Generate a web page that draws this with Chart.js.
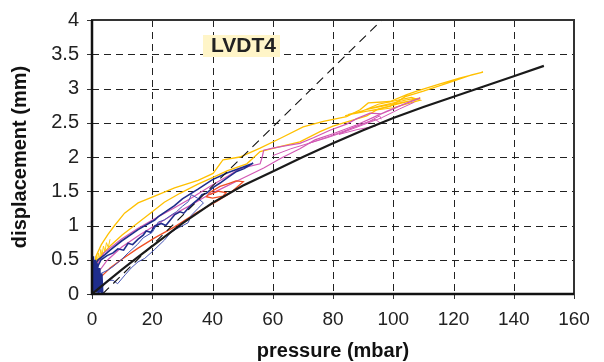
<!DOCTYPE html>
<html>
<head>
<meta charset="utf-8">
<script src="https://cdn.jsdelivr.net/npm/chart.js@4.4.1/dist/chart.umd.min.js"></script>
<style>
  html, body { margin: 0; padding: 0; background: #fff; }
  #wrap { width: 604px; height: 362px; }
</style>
</head>
<body>
<div id="wrap"><canvas id="c" width="604" height="362"></canvas></div>
<script>
// axis ticks
const xTicks = [0, 20, 40, 60, 80, 100, 120, 140, 160];
const yTicks = [0, 0.5, 1, 1.5, 2, 2.5, 3, 3.5, 4];

// fitted curve (black) and reference line (dashed)
const fitCurve = [[0,0],[5,0.18],[10,0.36],[15,0.53],[20,0.7],[30,1.03],[40,1.33],[50,1.58],[60,1.79],[70,2.0],[80,2.2],[90,2.39],[100,2.57],[110,2.73],[120,2.88],[130,3.03],[140,3.18],[150,3.33]];
const refLine = [[3.5,0],[96.2,4]];

// measured loops
const yellowMain = [[0.5,0.3],[0.9,0.42],[1.4,0.56],[3.1,0.72],[5.3,0.87],[7.5,1.0],[10.8,1.18],[15.3,1.33],[20.8,1.43],[27.4,1.55],[35.2,1.66],[40.2,1.76],[42.5,1.9],[43.5,1.96],[49.1,2.0],[55.8,2.13],[62.4,2.27],[70.1,2.44],[76.8,2.52],[84.5,2.59],[89,2.69],[91.7,2.79],[98.9,2.81],[104.5,2.91],[107.8,2.96],[115,3.06],[122,3.15],[129.8,3.24],
  [126,3.2],[118,3.08],[110,2.96],[104,2.88],[98.9,2.74],[95,2.7],[91.2,2.6],[86,2.53],[80,2.45],[75.7,2.37],[69,2.22],[62.4,2.15],[55.8,2.08],[51.4,1.9],[45,1.8],[40,1.7],[35,1.6],[29.2,1.47],[24,1.34],[20,1.2],[15.3,1.04],[10,0.86],[6,0.7],[3,0.56],[1.5,0.46],[0.8,0.4]];
const yellowLoops = [[84,2.6],[95,2.74],[105,2.84],[109,2.86],[104,2.8],[95,2.7],[88,2.64],[95,2.77],[106,2.87],[109,2.83],[100,2.72],[90,2.66],[85,2.62],[92,2.7],[103,2.8],[108,2.84]];
const yellowNoise = [[0.4,0.3],[0.6,0.45],[1,0.36],[1.3,0.55],[1.7,0.44],[2.1,0.6],[2.5,0.5],[2.9,0.65],[3.3,0.56],[3.8,0.7],[4.3,0.62],[4.8,0.75],[5.4,0.68],[6,0.8]];
const redLoop = [[0.3,0.02],[1.5,0.15],[3,0.25],[6,0.38],[9.7,0.5],[15.3,0.67],[20.8,0.82],[27.4,0.98],[35.2,1.2],[41.4,1.35],[45.8,1.47],[50.2,1.64],[47.8,1.65],[45.8,1.62],[42.5,1.57],[39,1.48],[38,1.42],[40,1.4],[43.5,1.43],[44.5,1.48],[42,1.5],[39,1.45]];
const pinkLoop = [[0.5,0.25],[1.5,0.42],[4,0.6],[9.7,0.8],[15.3,0.96],[20.8,1.1],[27.4,1.26],[33,1.4],[40.2,1.6],[45,1.72],[49.1,1.83],[55.8,1.9],[56.5,2.0],[57,2.1],[60,2.13],[65,2.17],[69,2.2],[73.5,2.28],[79,2.39],[84.5,2.48],[87.9,2.56],[92.3,2.64],[96,2.63],[100,2.7],[105,2.8],[108.9,2.86],
  [104,2.78],[98,2.67],[94.5,2.6],[88,2.47],[80,2.34],[74,2.25],[69,2.12],[63,1.99],[57,1.84],[50,1.69],[44,1.56],[38,1.43],[32.5,1.29],[27,1.16],[22,1.03],[16,0.87],[10,0.69],[5,0.49],[2,0.31],[0.5,0.15]];
const pinkInner = [[72,2.2],[80,2.32],[88,2.45],[94,2.55],[95.6,2.5],[94,2.45],[88,2.4],[82,2.33],[86,2.42],[92,2.52],[95.5,2.6],[96,2.55]];
const pinkLower = [[60,2.02],[66,2.12],[72,2.2],[78,2.28],[84,2.37],[90,2.47],[96,2.57],[102,2.7],[107,2.8]];
const navyLoop = [[0.3,0.0],[0.5,0.2],[1.3,0.35],[3,0.5],[5,0.56],[7,0.6],[8.6,0.66],[10.5,0.64],[12,0.74],[13.5,0.72],[15.3,0.8],[17,0.86],[18,0.92],[19.5,0.9],[20.8,0.99],[23,1.03],[24.5,1.0],[26.2,1.09],[27.5,1.16],[29.2,1.2],[30.5,1.18],[31.9,1.25],[33.5,1.32],[35.2,1.38],[36.5,1.45],[38,1.47],[40,1.55],[42.5,1.62],[45,1.7],[48,1.79],[50.5,1.83],[53.5,1.91],
  [50,1.85],[45,1.77],[40,1.67],[35.2,1.53],[30,1.39],[27.4,1.29],[22,1.13],[20.8,1.08],[15.3,0.94],[9.7,0.77],[6,0.64],[4.2,0.57],[2,0.5],[1,0.42],[0.5,0.3],[0.2,0.1]];
const blueLoop = [[0.5,0.05],[3,0.08],[5.3,0.2],[7,0.2],[8.5,0.15],[11,0.28],[13,0.38],[15.3,0.47],[17.5,0.52],[20.8,0.65],[24.1,0.79],[26.2,0.9],[28,0.95],[31.9,1.04],[33,1.15],[35.2,1.25],[37,1.33],[35,1.4],[33,1.45],[32,1.35],[30,1.28],[28,1.2],[26.2,1.15],[24,1.08],[22,1.05],[20,0.9],[17,0.82],[15,0.72],[12,0.6],[9.7,0.5],[7,0.4],[5.3,0.35],[3,0.3],[1.5,0.2]];
const navyBlob = [[0.2,0],[0.4,0.55],[0.8,0.03],[1.1,0.5],[1.5,0.02],[1.8,0.45],[2.2,0.0],[2.5,0.38],[2.9,0.03],[3.2,0.3],[3.5,0.02],[1,0.08],[0.3,0.1],[2.5,0.12],[0.5,0.02]];

function pts(arr) {
  return arr.map(p => ({ x: p[0], y: p[1] }));
}

function series(data, color, width, order, dash) {
  return {
    data: pts(data),
    borderColor: color,
    borderWidth: width,
    borderDash: dash || [],
    showLine: true,
    pointRadius: 0,
    tension: 0,
    fill: false,
    order: order
  };
}

// dashed grid + tick marks under the data
const gridPlugin = {
  id: "dashgrid",
  beforeDatasetsDraw(chart) {
    const ctx = chart.ctx;
    const a = chart.chartArea;
    const xs = chart.scales.x;
    const ys = chart.scales.y;
    ctx.save();
    ctx.strokeStyle = "#222";
    ctx.lineWidth = 1;
    ctx.setLineDash([7, 5]);
    xTicks.forEach(v => {
      const px = Math.round(xs.getPixelForValue(v)) + 0.5;
      ctx.beginPath();
      ctx.moveTo(px, a.top);
      ctx.lineTo(px, a.bottom);
      ctx.stroke();
    });
    yTicks.forEach(v => {
      const py = Math.round(ys.getPixelForValue(v)) + 0.5;
      ctx.beginPath();
      ctx.moveTo(a.left, py);
      ctx.lineTo(a.right, py);
      ctx.stroke();
    });
    // small tick marks outside the axes
    ctx.setLineDash([]);
    ctx.strokeStyle = "#333";
    xTicks.forEach(v => {
      const px = Math.round(xs.getPixelForValue(v)) + 0.5;
      ctx.beginPath();
      ctx.moveTo(px, a.bottom);
      ctx.lineTo(px, a.bottom + 5);
      ctx.stroke();
    });
    yTicks.forEach(v => {
      const py = Math.round(ys.getPixelForValue(v)) + 0.5;
      ctx.beginPath();
      ctx.moveTo(a.left - 5, py);
      ctx.lineTo(a.left, py);
      ctx.stroke();
    });
    ctx.restore();
  }
};

// frame + label box drawn over the plot
const framePlugin = {
  id: "frame",
  afterDraw(chart) {
    const ctx = chart.ctx;
    const a = chart.chartArea;
    ctx.save();
    ctx.strokeStyle = "#333";
    ctx.lineWidth = 2;
    ctx.strokeRect(a.left, a.top, a.right - a.left, a.bottom - a.top);
    ctx.strokeStyle = "#111";
    ctx.lineWidth = 2.5;
    ctx.beginPath();
    ctx.moveTo(a.left, a.top);
    ctx.lineTo(a.left, a.bottom);
    ctx.lineTo(a.right, a.bottom);
    ctx.stroke();

    ctx.fillStyle = "#FFF5C8";
    ctx.fillRect(203, 35, 77, 22);
    ctx.fillStyle = "#222";
    ctx.font = "bold 21px Arial, 'Liberation Sans', sans-serif";
    ctx.textAlign = "left";
    ctx.textBaseline = "middle";
    ctx.fillText("LVDT4", 211, 46.5);
    ctx.restore();
  }
};

const tickFont = { family: "Arial, 'Liberation Sans', sans-serif", size: 19 };
const yTickFont = { family: "Arial, 'Liberation Sans', sans-serif", size: 20 };
const titleFont = { family: "Arial, 'Liberation Sans', sans-serif", size: 20, weight: "bold", lineHeight: 1 };

new Chart(document.getElementById("c"), {
  type: "scatter",
  data: {
    datasets: [
      series(fitCurve, "#1a1a1a", 2.2, 0),
      series(refLine, "#111", 1.1, 1, [9, 6]),
      series(navyBlob, "#1f2d8c", 2, 2),
      series(navyLoop, "#1f2d8c", 1.6, 3),
      series(blueLoop, "#4453b4", 1, 4),
      series(redLoop, "#f04e23", 1.3, 5),
      series(pinkInner, "#d258b4", 1, 6),
      series(pinkLower, "#d258b4", 1, 7),
      series(pinkLoop, "#d258b4", 1.2, 8),
      series(yellowLoops, "#ffc000", 1.1, 9),
      series(yellowMain, "#ffc000", 1.3, 10),
      series(yellowNoise, "#ffcc10", 1, 11)
    ]
  },
  options: {
    responsive: false,
    animation: false,
    layout: { padding: { top: 20, right: 30, left: 0, bottom: 0 } },
    plugins: {
      legend: { display: false },
      tooltip: { enabled: false }
    },
    scales: {
      x: {
        type: "linear",
        min: 0,
        max: 160,
        afterBuildTicks: s => { s.ticks = xTicks.map(v => ({ value: v })); },
        afterFit: s => { s.height = 68; },
        grid: { display: false },
        border: { display: false },
        ticks: { font: tickFont, color: "#222", padding: 6, maxRotation: 0, callback: v => String(v) },
        title: { display: true, text: "pressure (mbar)", font: titleFont, color: "#111", padding: { top: 0, bottom: 1 } }
      },
      y: {
        type: "linear",
        min: 0,
        max: 4,
        afterBuildTicks: s => { s.ticks = yTicks.map(v => ({ value: v })); },
        afterFit: s => { s.width = 92; },
        grid: { display: false },
        border: { display: false },
        ticks: { font: yTickFont, color: "#222", padding: 5, callback: v => String(v) },
        title: { display: true, text: "displacement (mm)", font: titleFont, color: "#111", padding: { top: 10, bottom: 0 } }
      }
    }
  },
  plugins: [gridPlugin, framePlugin]
});
</script>
</body>
</html>
